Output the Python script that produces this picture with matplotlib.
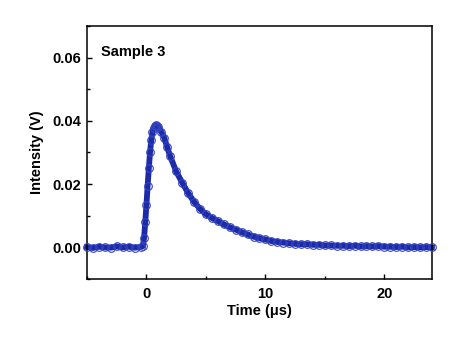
import matplotlib
matplotlib.use('Agg')
import matplotlib.pyplot as plt
from matplotlib.ticker import MultipleLocator

plt.rcParams['font.family'] = ['Liberation Sans', 'DejaVu Sans']
plt.rcParams['font.weight'] = 'bold'

# signal (time in us, intensity in V)
baseline_t = [-5.0, -4.5, -4.0, -3.5, -3.0, -2.5, -2.0, -1.5, -1.0, -0.5]
baseline_v = [0.0001, -0.0002, 0.0002, 0.0000, -0.0001, 0.0003, 0.0000, 0.0002, -0.0001, 0.0001]

rise_t = [-0.3, -0.2, -0.1, 0.0, 0.1, 0.2, 0.3, 0.4, 0.5, 0.6, 0.7, 0.8, 0.9]
rise_v = [0.0004, 0.0030, 0.0080, 0.0135, 0.0195, 0.0250, 0.0300, 0.0338, 0.0364, 0.0378, 0.0384, 0.0386, 0.0384]

decay_t = [1.0, 1.25, 1.5, 1.75, 2.0, 2.5, 3.0, 3.5, 4.0, 4.5, 5.0, 5.5, 6.0, 6.5,
           7.0, 7.5, 8.0, 8.5, 9.0, 9.5, 10.0, 10.5, 11.0, 11.5, 12.0, 12.5, 13.0,
           13.5, 14.0, 14.5, 15.0, 15.5, 16.0, 16.5, 17.0, 17.5, 18.0, 18.5, 19.0,
           19.5, 20.0, 20.5, 21.0, 21.5, 22.0, 22.5, 23.0, 23.5, 24.0]
decay_v = [0.0380, 0.0365, 0.0346, 0.0316, 0.0288, 0.0240, 0.0205, 0.0172, 0.0144,
           0.0122, 0.0105, 0.0093, 0.0083, 0.0073, 0.0064, 0.0056, 0.0048, 0.0041,
           0.0034, 0.0029, 0.0025, 0.0020, 0.0017, 0.0015, 0.0013, 0.0011, 0.0010,
           0.0010, 0.0008, 0.0008, 0.0006, 0.0006, 0.0005, 0.0005, 0.0004, 0.0005,
           0.0003, 0.0004, 0.0003, 0.0004, 0.0002, 0.0002, 0.0001, 0.0002, 0.0000,
           0.0001, 0.0000, 0.0001, 0.0000]

t = baseline_t + rise_t + decay_t
v = baseline_v + rise_v + decay_v

blue = '#1c2aa8'

fig = plt.figure(figsize=(4.59, 3.49), dpi=100)
ax = fig.add_axes([0.1895, 0.2006, 0.7515, 0.7249])

ax.plot(t, v, '-', color=blue, lw=4.2, clip_on=False, zorder=2)
ax.plot(t, v, 'o', mfc='none', mec='#3444c0', ms=5.5, mew=0.8, clip_on=False, zorder=3)

ax.set_xlim(-5, 24)
ax.set_ylim(-0.01, 0.07)
ax.xaxis.set_major_locator(MultipleLocator(10))
ax.xaxis.set_minor_locator(MultipleLocator(5))
ax.yaxis.set_major_locator(MultipleLocator(0.02))
ax.yaxis.set_minor_locator(MultipleLocator(0.01))
ax.set_yticks([0.0, 0.02, 0.04, 0.06])
ax.set_yticklabels(['0.00', '0.02', '0.04', '0.06'])

ax.tick_params(which='both', direction='in', top=False, right=False, labelsize=10.5, width=1.0)
ax.tick_params(which='major', length=3.6)
ax.tick_params(which='minor', length=2.0)
ax.tick_params(axis='x', pad=6)
ax.tick_params(axis='y', pad=4)
for s in ax.spines.values():
    s.set_linewidth(1.1)

ax.set_xlabel('Time (\u03bcs)', fontsize=10.5, fontweight='bold', labelpad=2)
ax.set_ylabel('Intensity (V)', fontsize=10.5, fontweight='bold', labelpad=6)
ax.text(0.04, 0.897, 'Sample 3', transform=ax.transAxes, fontsize=10.5,
        fontweight='bold', va='center')

fig.savefig('out.png', dpi=100)
